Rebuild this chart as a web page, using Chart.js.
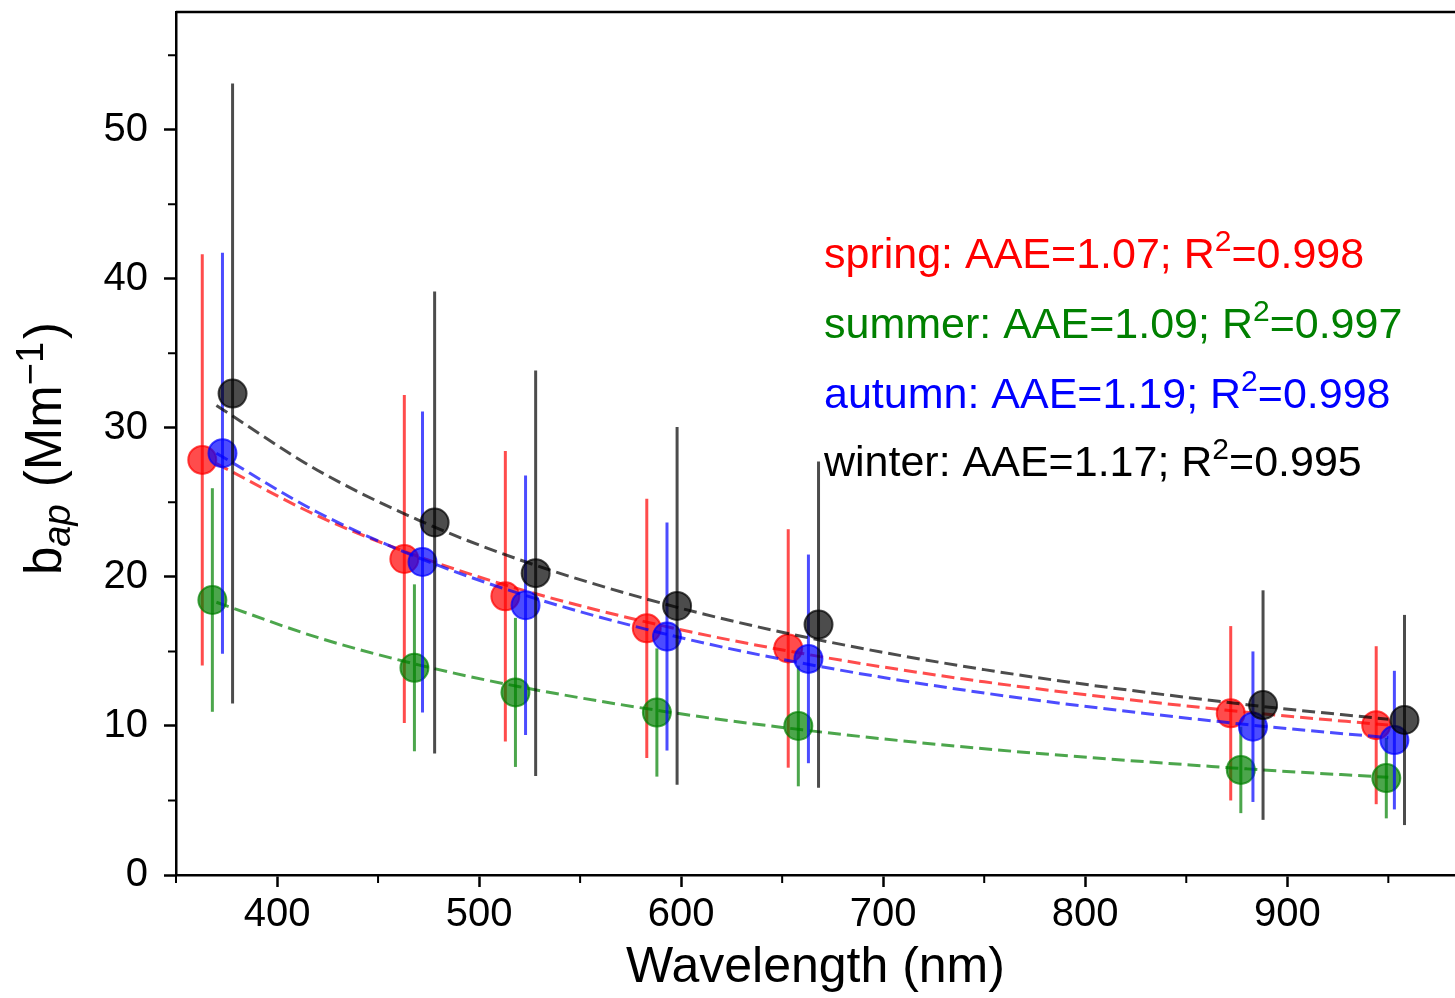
<!DOCTYPE html>
<html>
<head>
<meta charset="utf-8">
<script src="https://cdn.jsdelivr.net/npm/chart.js@4.4.1/dist/chart.umd.min.js"></script>
<style>
  html, body { margin: 0; padding: 0; background: #fff; overflow: hidden; }
  #bapChart { display: block; }
</style>
</head>
<body>
<canvas id="bapChart" width="1455" height="998"></canvas>
<script>
// ===============================
//  SEASONAL ABSORPTION DATA (b_ap, Mm-1)
// ===============================
const springWl  = [363, 463, 513, 583, 653, 872, 944];
const springBap = [27.85, 21.2, 18.7, 16.55, 15.2, 10.85, 10.05];
const springErr = [13.8, 11.0, 9.75, 8.7, 8.0, 5.85, 5.3];

const summerWl  = [368, 468, 518, 588, 658, 877, 949];
const summerBap = [18.45, 13.9, 12.25, 10.9, 10.0, 7.05, 6.5];
const summerErr = [7.5, 5.6, 5.0, 4.3, 4.05, 2.9, 2.7];

const autumnWl  = [373, 472, 523, 593, 663, 883, 953];
const autumnBap = [28.3, 21.0, 18.1, 16.0, 14.5, 9.95, 9.05];
const autumnErr = [13.45, 10.1, 8.7, 7.65, 7.0, 5.05, 4.65];

const winterWl  = [378, 478, 528, 598, 668, 888, 958];
const winterBap = [32.3, 23.65, 20.25, 18.05, 16.8, 11.4, 10.4];
const winterErr = [20.8, 15.5, 13.6, 12.0, 10.95, 7.7, 7.05];

// power-law fit curves, read at these wavelengths
const fitWl     = [370, 420, 470, 520, 590, 660, 750, 880, 950];
const springFit = [27.6, 24.1, 21.37, 19.18, 16.75, 14.86, 12.96, 10.92, 10.06];
const summerFit = [18.3, 15.94, 14.1, 12.63, 11.01, 9.74, 8.47, 7.12, 6.55];
const autumnFit = [28.3, 24.34, 21.29, 18.88, 16.24, 14.21, 12.21, 10.09, 9.21];
const winterFit = [31.5, 27.16, 23.81, 21.15, 18.25, 16.0, 13.78, 11.43, 10.45];

const seasonNames = ['spring', 'summer', 'autumn', 'winter'];
const aaeValues   = ['1.07', '1.09', '1.19', '1.17'];
const r2Values    = ['0.998', '0.997', '0.998', '0.995'];

const xMajorTicks = [400, 500, 600, 700, 800, 900];
const xMinorTicks = [350, 450, 550, 650, 750, 850, 950];
const yMajorTicks = [0, 10, 20, 30, 40, 50];
const yMinorTicks = [5, 15, 25, 35, 45, 55];

const FONT = "'Liberation Sans', Arial, Helvetica, sans-serif";
Chart.defaults.font.family = FONT;
Chart.defaults.color = '#000';

const solid = { spring: '#ff0000', summer: '#008000', autumn: '#0000ff', winter: '#000000' };
const faded = {
    spring: 'rgba(255, 0, 0, 0.7)',
    summer: 'rgba(0, 128, 0, 0.7)',
    autumn: 'rgba(0, 0, 255, 0.7)',
    winter: 'rgba(0, 0, 0, 0.7)'
};

function toPoints(xs, ys) {
    return xs.map((x, i) => ({ x: x, y: ys[i] }));
}

function pointSet(name, xs, ys, errs, order) {
    return {
        label: name,
        data: toPoints(xs, ys),
        yErr: errs,
        backgroundColor: faded[name],
        borderColor: faded[name],
        pointRadius: 14,
        pointBorderWidth: 2,
        order: order
    };
}

function fitSet(name, ys, order) {
    return {
        label: name + ' fit',
        data: toPoints(fitWl, ys),
        showLine: true,
        borderColor: faded[name],
        borderWidth: 3,
        borderDash: [13, 6],
        pointRadius: 0,
        cubicInterpolationMode: 'monotone',
        order: order
    };
}

// ===============================
//  PLUGINS
// ===============================

// vertical error bars, drawn right before each season's markers
const errorBars = {
    id: 'errorBars',
    beforeDatasetDraw(chart, args) {
        const ds = chart.data.datasets[args.index];
        if (!ds.yErr) return;
        const { ctx, scales: { x, y } } = chart;
        ctx.save();
        ctx.strokeStyle = ds.borderColor;
        ctx.lineWidth = 3;
        ds.data.forEach((p, i) => {
            const px = x.getPixelForValue(p.x);
            ctx.beginPath();
            ctx.moveTo(px, y.getPixelForValue(p.y - ds.yErr[i]));
            ctx.lineTo(px, y.getPixelForValue(p.y + ds.yErr[i]));
            ctx.stroke();
        });
        ctx.restore();
    }
};

// minor ticks + top spine
const frame = {
    id: 'frame',
    afterDraw(chart) {
        const { ctx, chartArea, scales: { x, y } } = chart;
        ctx.save();
        ctx.strokeStyle = '#000';
        ctx.lineWidth = 2;
        ctx.beginPath();
        xMinorTicks.forEach(v => {
            const px = x.getPixelForValue(v);
            ctx.moveTo(px, chartArea.bottom);
            ctx.lineTo(px, chartArea.bottom + 8);
        });
        yMinorTicks.forEach(v => {
            const py = y.getPixelForValue(v);
            ctx.moveTo(chartArea.left, py);
            ctx.lineTo(chartArea.left - 8, py);
        });
        ctx.stroke();

        ctx.lineWidth = 2.5;
        ctx.beginPath();
        ctx.moveTo(chartArea.left, chartArea.top);
        ctx.lineTo(chartArea.right, chartArea.top);
        ctx.stroke();
        ctx.restore();
    }
};

// draws a run of text pieces (font, vertical shift, trailing gap) along the baseline
function drawRuns(ctx, runs, x, y, color) {
    ctx.fillStyle = color;
    ctx.textBaseline = 'alphabetic';
    ctx.textAlign = 'left';
    runs.forEach(r => {
        ctx.font = r.font;
        ctx.fillText(r.text, x, y + r.dy);
        x += ctx.measureText(r.text).width + (r.gap || 0);
    });
}

function runsWidth(ctx, runs) {
    return runs.reduce((w, r) => {
        ctx.font = r.font;
        return w + ctx.measureText(r.text).width + (r.gap || 0);
    }, 0);
}

// y axis title with subscript / superscript
const yTitle = {
    id: 'yTitle',
    afterDraw(chart) {
        const ctx = chart.ctx;
        const big = '51px ' + FONT;
        const small = '38px ' + FONT;
        const runs = [
            { text: 'b', font: big, dy: 0 },
            { text: 'ap', font: 'italic ' + small, dy: 9, gap: 3 },
            { text: ' (Mm', font: big, dy: 0 },
            { text: '\u22121', font: small, dy: -18, gap: 3 },
            { text: ')', font: big, dy: 0 }
        ];
        const area = chart.chartArea;
        ctx.save();
        ctx.translate(61, (area.top + area.bottom) / 2 + 5);
        ctx.rotate(-Math.PI / 2);
        drawRuns(ctx, runs, -runsWidth(ctx, runs) / 2, 0, '#000');
        ctx.restore();
    }
};

// AAE / R² labels for each season
const fitNotes = {
    id: 'fitNotes',
    afterDraw(chart, args, opts) {
        const { ctx, scales: { x, y } } = chart;
        const big = '43px ' + FONT;
        const sup = '30px ' + FONT;
        ctx.save();
        seasonNames.forEach((name, i) => {
            const runs = [
                { text: name + ': AAE=' + aaeValues[i] + '; R', font: big, dy: 0 },
                { text: '2', font: sup, dy: -17 },
                { text: '=' + r2Values[i], font: big, dy: 0 }
            ];
            drawRuns(ctx, runs, x.getPixelForValue(opts.x), y.getPixelForValue(opts.y[i]), solid[name]);
        });
        ctx.restore();
    }
};

// ===============================
//  CHART
// ===============================
const tickFont = { size: 40, family: FONT };

new Chart(document.getElementById('bapChart'), {
    type: 'scatter',
    data: {
        datasets: [
            pointSet('spring', springWl, springBap, springErr, 8),
            fitSet('spring', springFit, 7),
            pointSet('summer', summerWl, summerBap, summerErr, 6),
            fitSet('summer', summerFit, 5),
            pointSet('autumn', autumnWl, autumnBap, autumnErr, 4),
            fitSet('autumn', autumnFit, 3),
            pointSet('winter', winterWl, winterBap, winterErr, 2),
            fitSet('winter', winterFit, 1)
        ]
    },
    options: {
        responsive: false,
        animation: false,
        layout: { autoPadding: false, padding: { left: 0, top: 12, right: 0, bottom: 0 } },
        plugins: {
            legend: { display: false },
            tooltip: { enabled: false },
            fitNotes: { x: 670.7, y: [40.7, 36.0, 31.3, 26.75] }
        },
        scales: {
            x: {
                type: 'linear',
                min: 350,
                max: 983,
                afterBuildTicks: s => { s.ticks = xMajorTicks.map(v => ({ value: v })); },
                afterFit: s => { s.height = 123; s.paddingLeft = 0; s.paddingRight = 0; },
                ticks: { font: tickFont, color: '#000', padding: 4, maxRotation: 0, autoSkip: false },
                grid: { drawOnChartArea: false, drawTicks: true, tickLength: 12, tickWidth: 2.5, tickColor: '#000' },
                border: { display: true, color: '#000', width: 2.5 },
                title: {
                    display: true,
                    text: 'Wavelength (nm)',
                    color: '#000',
                    font: { size: 50, family: FONT },
                    padding: { top: 0, bottom: 0 }
                }
            },
            y: {
                type: 'linear',
                min: 0,
                max: 57.9,
                afterBuildTicks: s => { s.ticks = yMajorTicks.map(v => ({ value: v })); },
                afterFit: s => { s.width = 176; s.paddingTop = 0; s.paddingBottom = 0; },
                ticks: { font: tickFont, color: '#000', padding: 16 },
                grid: { drawOnChartArea: false, drawTicks: true, tickLength: 12, tickWidth: 2.5, tickColor: '#000' },
                border: { display: true, color: '#000', width: 2.5 }
            }
        }
    },
    plugins: [errorBars, frame, yTitle, fitNotes]
});
</script>
</body>
</html>
